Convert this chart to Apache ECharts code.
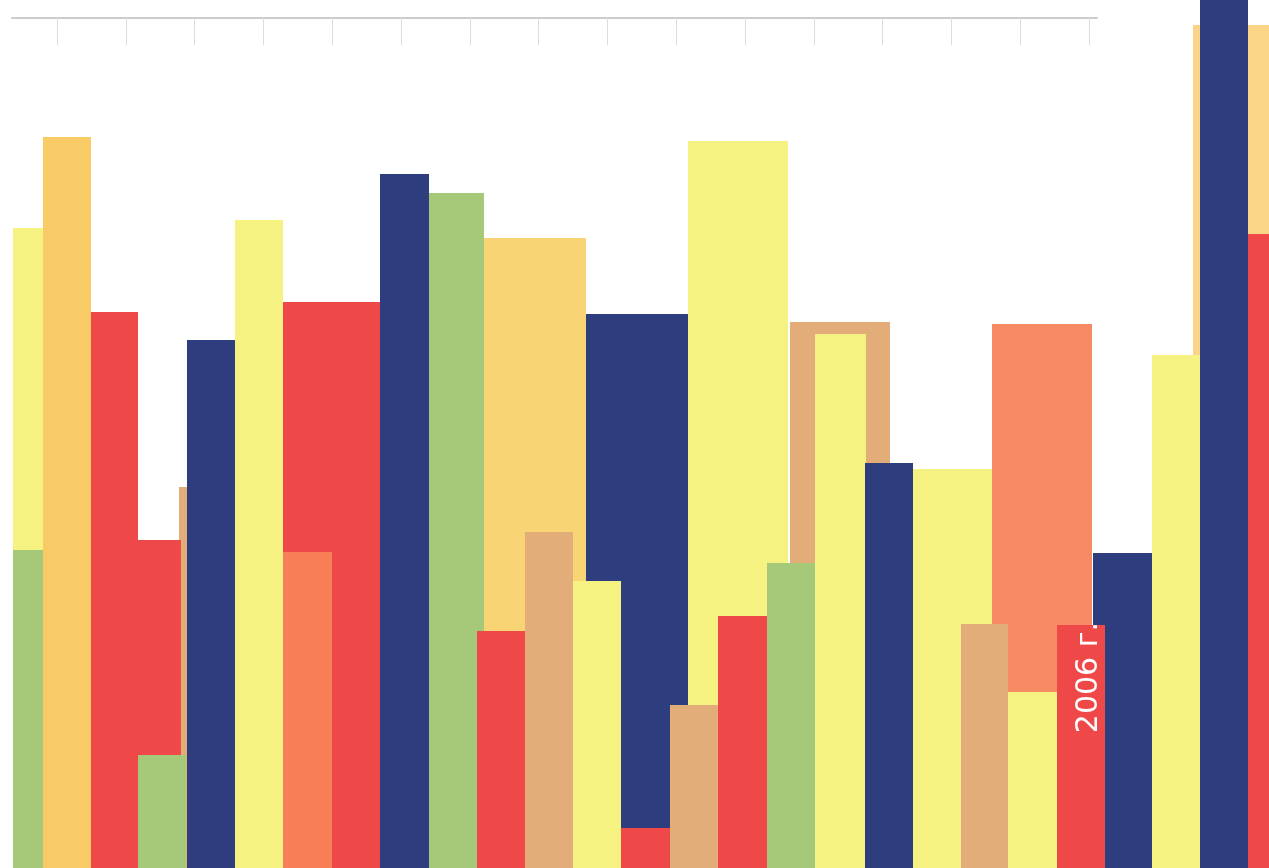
<!DOCTYPE html>
<html>
<head>
<meta charset="utf-8">
<script src="https://cdn.jsdelivr.net/npm/echarts@6/dist/echarts.min.js"></script>
<style>
html,body{margin:0;padding:0;background:#ffffff;}
#chart{width:1269px;height:868px;}
</style>
</head>
<body>
<div id="chart"></div>
<script>
// Bar kinds (colour groups) in drawing order
var barKind = ['yellow','green','gold','red','tan','red','green','blue','yellow','red','orange','blue','green','gold2','red','tan','blue','yellow','red','yellow','tan','red','tan','green','yellow','blue','yellow','salmon','tan','yellow','blue','red','lightgold','yellow','blue','red'];
// Bar start / end on the horizontal value scale
var barStart = [13,13,43,91,179,138,138,187,235,283,283,380,429,484,477,525,586,573,621,688,670,718,790,767,815,865,913,992,961,1008,1093,1057,1193,1152,1200,1248];
var barEnd   = [43,43,91,138,190,181,186,235,283,380,332,429,484,586,525,573,688,621,670,788,718,767,890,815,866,913,992,1092,1008,1057,1152,1105,1269,1200,1248,1269];
// Bar heights on the vertical value scale
var barHeight = [640,318,731,556,381,328,113,528,648,566,316,694,675,630,237,336,554,287,40,727,163,252,546,305,534,405,399,544,244,176,315,243,843,513,878,634];
// Text labels of bars
var barLabel = ['','','','','','','','','','','','','','','','','','','','','','','','','','','','','','','','2006 г.','','','',''];
// Top axis ticks
var topTicks = [0,1,2,3,4,5,6,7,8,9,10,11,12,13,14,15];

var palette = {
  yellow:'#F5F282', green:'#A5C978', gold:'#F8CB66', gold2:'#F9D474', red:'#EF4848',
  tan:'#E3AD79', blue:'#2E3D7D', orange:'#F77E56', salmon:'#F78B64', lightgold:'#FAD588'
};

var data = barStart.map(function(v,i){ return [v, barEnd[i], barHeight[i]]; });

var chart = echarts.init(document.getElementById('chart'), null, {renderer:'canvas'});
chart.setOption({
  animation:false,
  backgroundColor:'#ffffff',
  grid:[
    {left:0,right:0,top:0,bottom:0},
    {left:12,width:1085,top:18,height:30}
  ],
  xAxis:[
    {type:'value',min:0,max:1269,show:false,gridIndex:0},
    {type:'value',gridIndex:1,position:'top',min:-0.654,max:15.116,
     axisLine:{show:true,onZero:false,lineStyle:{color:'#cccccc',width:2}},
     axisTick:{show:true,inside:true,length:27,customValues:topTicks,lineStyle:{color:'#dddddd',width:1}},
     axisLabel:{show:false},splitLine:{show:false}}
  ],
  yAxis:[
    {type:'value',min:0,max:868,show:false,gridIndex:0},
    {type:'value',min:0,max:1,show:false,gridIndex:1}
  ],
  series:[
    {
      type:'custom',
      xAxisIndex:0,yAxisIndex:0,
      clip:false,
      data:data,
      renderItem:function(params, api){
        var i = params.dataIndex;
        var s = api.coord([api.value(0), 0]);
        var e = api.coord([api.value(1), api.value(2)]);
        var children = [{
          type:'rect',
          shape:{x:s[0], y:e[1], width:e[0]-s[0], height:s[1]-e[1]},
          style:{fill:palette[barKind[i]]}
        }];
        if (barLabel[i]) {
          children.push({
            type:'text',
            x:e[0]-16, y:e[1]-3,
            rotation:Math.PI/2,
            z2:10,
            style:{text:barLabel[i], fill:'#ffffff', font:'30px "DejaVu Sans", sans-serif', align:'right', verticalAlign:'middle'}
          });
        }
        return {type:'group', children:children};
      }
    },
    {type:'line',xAxisIndex:1,yAxisIndex:1,data:[],silent:true}
  ]
});
</script>
</body>
</html>
